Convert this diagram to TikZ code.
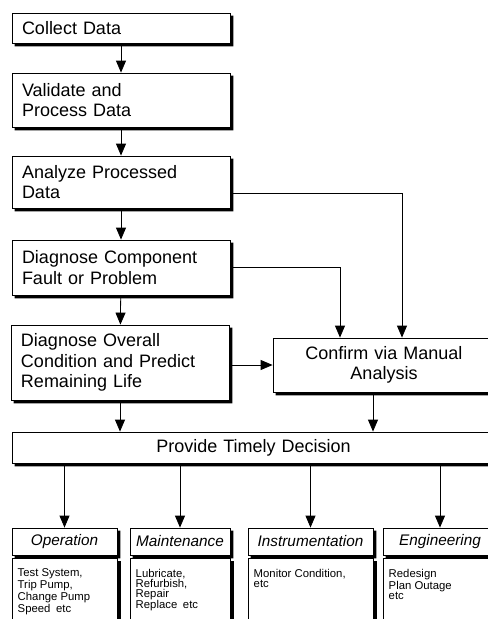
\documentclass[tikz,border=0pt]{standalone}
\usepackage{fontspec}
\setmainfont{Liberation Sans}
\usetikzlibrary{arrows.meta}
\tikzset{
  stepbox/.style={draw, line width=0.6pt, fill=white, align=left,
                  text width=148.5pt, inner xsep=7.5pt, inner ysep=0pt,
                  font=\fontsize{13.5}{15.4}\selectfont},
  headbox/.style={draw, line width=0.6pt, fill=white, inner sep=0pt,
                  minimum height=20.25pt, font=\fontsize{11.5}{13}\selectfont\itshape},
  listbox/.style={draw, line width=0.6pt, fill=white, anchor=north west,
                  inner xsep=4pt, inner ysep=8pt, font=\fontsize{8.5}{7.4}\selectfont},
}
\newcommand{\itemlist}[2]{\parbox[t][50pt][t]{#1}{#2}}

\begin{document}
\begin{tikzpicture}[
    x=0.75pt, y=-0.75pt,
    arr/.style={-{Triangle[length=9pt, width=7.5pt]}, line width=0.6pt},
  ]
  \useasboundingbox (0,0) rectangle (487,619);

  % left column
  \node[stepbox, minimum height=22.5pt] (collect) at (121, 28) {Collect Data};
  \node[stepbox, minimum height=40.5pt] (validate) at (121, 100) {Validate and\\Process Data};
  \node[stepbox, minimum height=39pt] (analyze) at (121, 182) {Analyze Processed\\Data};
  \node[stepbox, minimum height=41.25pt] (component) at (121, 267.5) {Diagnose Component\\Fault or Problem};
  \node[stepbox, minimum height=56.25pt] (overall) at (120, 362.5) {Diagnose Overall\\Condition and Predict\\Remaining Life};

  \node[stepbox, align=center, text width=151.5pt, minimum height=40.5pt] (confirm) at (384, 365) {Confirm via Manual\\Analysis};

  \node[stepbox, align=center, text width=347.25pt, minimum height=23.25pt] (decision) at (253.5, 447.5) {Provide Timely Decision};

  % action groups
  \node[headbox, minimum width=78.75pt] (op) at (64.5, 541.5) {Operation};
  \node[headbox, minimum width=75pt] (maint) at (180, 541.5) {Maintenance};
  \node[headbox, minimum width=93.75pt] (instr) at (310.5, 541.5) {Instrumentation};
  \node[headbox, minimum width=85.5pt] (eng) at (440, 541.5) {Engineering};

  \node[listbox] (opl) at (12, 558) {\itemlist{70.75pt}{Test System,\\Trip Pump,\\Change Pump\\Speed\enspace etc}};
  \node[listbox] (maintl) at (130, 558) {\itemlist{67pt}{Lubricate,\\Refurbish,\\Repair\\Replace\enspace etc}};
  \node[listbox] (instrl) at (248, 558) {\itemlist{85.75pt}{Monitor Condition,\\etc}};
  \node[listbox] (engl) at (383, 558) {\itemlist{77.5pt}{Redesign\\Plan Outage\\etc}};

  % heavy right/bottom edges
  \foreach \n in {collect, validate, analyze, component, overall, confirm, decision,
                  op, maint, instr, eng, opl, maintl, instrl, engl}
    \fill ([yshift=-2.25pt]\n.north east) -| ([shift={(2.25pt,-2.25pt)}]\n.south east)
      -| ([xshift=2.25pt]\n.south west) -- (\n.south east) -- cycle;

  % connectors
  \draw[arr] (collect) -- (validate);
  \draw[arr] (validate) -- (analyze);
  \draw[arr] (analyze) -- (component);
  \draw[arr] (component) -- (overall);

  \draw[arr] ([yshift=-8.25pt]analyze.east) -| ([xshift=13.5pt]confirm.north);
  \draw[arr] (component.east) -| ([xshift=-33pt]confirm.north);
  \draw[arr] (overall.east |- confirm.west) -- (confirm.west);

  \draw[arr] (overall.south) -- (overall.south |- decision.north);
  \draw[arr] ([xshift=-8.25pt]confirm.south) -- ([xshift=-8.25pt]confirm.south |- decision.north);

  \foreach \g in {op, maint, instr, eng}
    \draw[arr] (decision.south -| \g.north) -- (\g.north);

\end{tikzpicture}
\end{document}
